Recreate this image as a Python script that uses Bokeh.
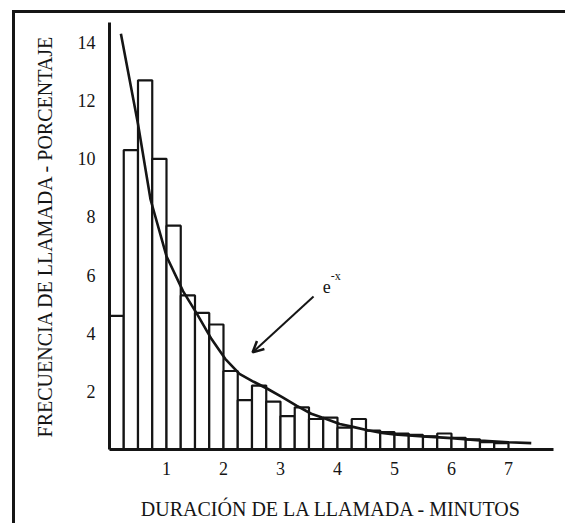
from bokeh.plotting import figure
from bokeh.models import FixedTicker, Range1d, Arrow, OpenHead, ColumnDataSource
from bokeh.core.properties import value
from bokeh.embed import file_html
from bokeh.resources import INLINE

# ---- data ----
# call-duration bins (minutes), each 0.25 min wide
bin_start = [0.0, 0.25, 0.5, 0.75, 1.0, 1.25, 1.5, 1.75, 2.0, 2.25, 2.5, 2.75, 3.0, 3.25,
             3.5, 3.75, 4.0, 4.25, 4.5, 4.75, 5.0, 5.25, 5.5, 5.75, 6.0, 6.25, 6.5, 6.75]
bin_width = 0.25
# call frequency (percent) per bin
frecuencia = [4.6, 10.3, 12.7, 10.0, 7.7, 5.3, 4.7, 4.3, 2.7, 1.7, 2.2, 1.65, 1.15, 1.45,
              1.05, 1.1, 0.75, 1.05, 0.65, 0.6, 0.55, 0.5, 0.45, 0.55, 0.4, 0.35, 0.25, 0.22]
# fitted e^-x curve
curve_x = [0.2, 0.5, 0.72, 1.0, 1.29, 1.54, 1.79, 2.03, 2.28, 2.53, 2.77, 3.03, 3.28, 3.54,
           3.79, 4.04, 4.29, 4.53, 4.78, 5.0, 5.5, 6.0, 6.5, 7.0, 7.4]
curve_y = [14.3, 11.2, 8.6, 6.65, 5.45, 4.65, 3.8, 3.12, 2.6, 2.33, 2.09, 1.8, 1.51, 1.23,
           1.06, 0.88, 0.77, 0.66, 0.57, 0.52, 0.45, 0.39, 0.31, 0.25, 0.22]
x_ticks = [1, 2, 3, 4, 5, 6, 7]
y_ticks = [2, 4, 6, 8, 10, 12, 14]
x_label = "DURACIÓN DE LA LLAMADA - MINUTOS"
y_label = "FRECUENCIA DE LLAMADA - PORCENTAJE"
curve_label = "e"
curve_label_sup = "-x"

INK = "#151515"
SERIF = "Liberation Serif"

p = figure(width=565, height=523,
           x_range=Range1d(0, 7.79), y_range=Range1d(0, 14.69),
           output_backend="svg", toolbar_location=None,
           min_border_left=109, min_border_right=12,
           min_border_top=22, min_border_bottom=74)
# outer frame of the scanned figure: a line on the top and one on the left
grad = "linear-gradient(%s, %s)" % (INK, INK)
p.styles = {
    "background-color": "white",
    "background-image": grad + ", " + grad,
    "background-size": "3px 100%, 100% 3px",
    "background-position": "12px 10px, 12px 10px",
    "background-repeat": "no-repeat",
}

p.grid.visible = False
p.outline_line_color = None
p.background_fill_color = "white"
p.border_fill_color = None

# bars
src = ColumnDataSource(dict(
    left=bin_start,
    right=[b + bin_width for b in bin_start],
    top=frecuencia,
))
p.quad(left="left", right="right", bottom=0, top="top", source=src,
       fill_color="white", line_color=INK, line_width=2.2)

# curve
p.line(curve_x, curve_y, line_color=INK, line_width=2.6)

# label e^-x with arrow
p.text(x=[3.74], y=[5.6], text=[curve_label], text_font=value(SERIF),
       text_font_size="18px", text_color=INK, text_align="left",
       text_baseline="alphabetic")
p.text(x=[3.88], y=[5.97], text=[curve_label_sup], text_font=value(SERIF),
       text_font_size="12px", text_color=INK, text_align="left",
       text_baseline="alphabetic")
p.add_layout(Arrow(x_start=3.58, y_start=5.26, x_end=2.51, y_end=3.34,
                   line_color=INK, line_width=2,
                   end=OpenHead(size=11, line_color=INK, line_width=2.5)))

# axes
for ax in (p.xaxis[0], p.yaxis[0]):
    ax.axis_line_width = 3
    ax.axis_line_color = INK
    ax.major_tick_line_color = None
    ax.minor_tick_line_color = None
    ax.major_tick_out = 0
    ax.major_tick_in = 0
    ax.major_label_text_font = SERIF
    ax.major_label_text_font_size = "18px"
    ax.major_label_text_color = INK
    ax.axis_label_text_font = SERIF
    ax.axis_label_text_font_size = "20px"
    ax.axis_label_text_font_style = "normal"
    ax.axis_label_text_color = INK

p.xaxis.ticker = FixedTicker(ticks=x_ticks)
p.yaxis.ticker = FixedTicker(ticks=y_ticks)
p.xaxis.axis_label = x_label
p.yaxis.axis_label = y_label
p.xaxis.major_label_standoff = 12
p.yaxis.major_label_standoff = 14
p.xaxis.axis_label_standoff = 20
p.yaxis.axis_label_standoff = 19

open("out.html", "w").write(file_html(p, INLINE))
